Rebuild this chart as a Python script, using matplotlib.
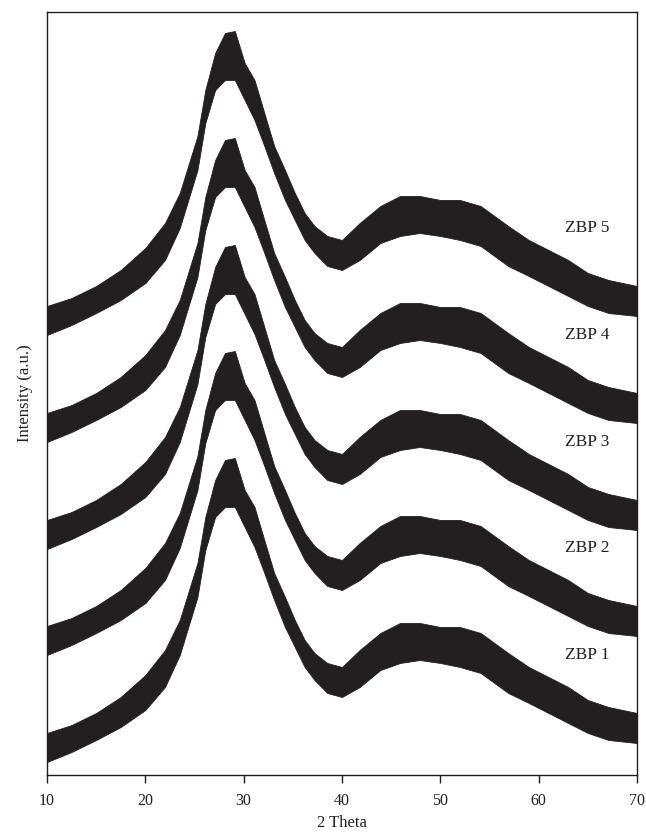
import matplotlib
matplotlib.use("Agg")
import matplotlib.pyplot as plt
import numpy as np

# 2-theta positions (deg) where the band of the ZBP 1 trace was read
two_theta = [10, 12.5, 15, 17.5, 20, 22, 23.5, 25.3, 26.1, 27.1, 28.1, 29.1, 30.1,
             31.1, 32.1, 33.1, 34.2, 35.2, 36.2, 37.2, 38.5, 40, 41.8, 43.9, 45.9,
             47.9, 50, 52, 54.1, 56.9, 59, 61, 63, 65, 67.1, 70]
# upper and lower edge of the noisy band (a.u.) for the lowest trace
band_upper = [42, 50, 62, 78, 100, 125, 155, 212, 258, 295, 315, 317, 285,
              268, 235, 202, 178, 155, 135, 122, 112, 108, 125, 142, 152,
              152, 148, 148, 142, 122, 108, 98, 88, 75, 68, 62]
band_lower = [13, 23, 35, 48, 65, 88, 120, 178, 225, 258, 268, 268, 248,
              228, 202, 175, 148, 128, 108, 95, 82, 78, 88, 105, 112,
              115, 112, 108, 102, 82, 72, 62, 52, 42, 35, 32]

samples = ["ZBP 1", "ZBP 2", "ZBP 3", "ZBP 4", "ZBP 5"]
offsets = [0, 107, 213, 320, 427]          # vertical stacking offsets (a.u.)
label_x = 64.9
label_y = [120, 227, 333, 440, 547]

xticks = [10, 20, 30, 40, 50, 60, 70]

plt.rcParams['font.family'] = ['Liberation Serif', 'DejaVu Serif']

fig = plt.figure(figsize=(6.46, 8.39), dpi=100)
ax = fig.add_axes([47/646, 64/839, 590/646, 763/839])

col = '#231f20'
tt = np.array(two_theta)
up = np.array(band_upper)
lo = np.array(band_lower)
for name, off, ly in zip(samples, offsets, label_y):
    ax.fill_between(tt, lo + off, up + off, color=col, linewidth=0.6,
                    edgecolor=col, zorder=2)
    ax.text(label_x, ly, name, ha='center', va='center', fontsize=12.5,
            color=col, zorder=5)

ax.set_xlim(10, 70)
ax.set_ylim(0, 763)
ax.set_xticks(xticks)
ax.set_xticklabels([str(v) for v in xticks], fontsize=11.5)
ax.set_yticks([])
ax.tick_params(axis='x', direction='out', length=6, width=1, pad=7, colors=col)
for s in ax.spines.values():
    s.set_linewidth(1)
    s.set_color(col)
ax.set_xlabel('2 Theta', fontsize=12, labelpad=4, color=col)
ax.set_ylabel('Intensity (a.u.)', fontsize=12, labelpad=10, color=col)

fig.savefig('out.png', dpi=100)
